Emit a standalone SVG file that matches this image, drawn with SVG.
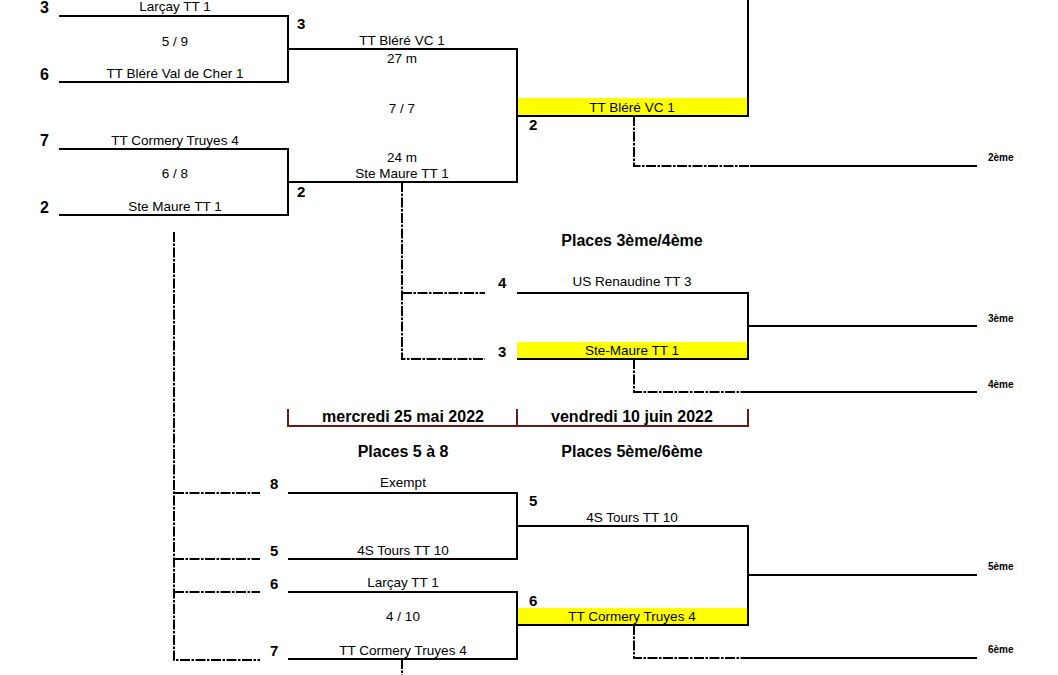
<svg xmlns="http://www.w3.org/2000/svg" width="1058" height="675" viewBox="0 0 1058 675">
<style>
.ln{stroke:#000;stroke-width:2;fill:none}
.dl{stroke:#000;stroke-width:2;fill:none;stroke-dasharray:10 1.5 2.5 1.5}
.dr{stroke:#6b1a1a;stroke-width:2;fill:none}
.t{font-family:"Liberation Sans",Arial,sans-serif;font-size:13.5px;fill:#000;text-anchor:middle}
.n{font-family:"Liberation Sans",Arial,sans-serif;font-size:15px;font-weight:bold;fill:#000}
.s{font-family:"Liberation Sans",Arial,sans-serif;font-size:16px;font-weight:bold;fill:#000}
.h{font-family:"Liberation Sans",Arial,sans-serif;font-size:16px;font-weight:bold;fill:#000;text-anchor:middle}
.p{font-family:"Liberation Sans",Arial,sans-serif;font-size:10px;font-weight:bold;fill:#000}
.y{fill:#ffff00}
</style>
<rect width="1058" height="675" fill="#fff"/>
<g id="highlights">
<rect class="y" x="517" y="98" width="231" height="18"/>
<rect class="y" x="517" y="342" width="231" height="17"/>
<rect class="y" x="517" y="608" width="231" height="17"/>
</g>
<g id="connectors">
<path class="ln" d="M59 16H288V82H59M288 49H517V182H288M59 149H288V215H59"/>
<path class="ln" d="M748 0V116H517"/>
<path class="ln" d="M750 166H977"/>
<path class="dl" d="M634 116V166H750"/>
<path class="dl" d="M402 182V359H485M402 293H485"/>
<path class="ln" d="M517 293H748V359H517M748 326H977M750 392H977"/>
<path class="dl" d="M634 359V392H750"/>
<path class="dl" d="M174 232V660H260M174 493H260M174 559H260M174 592H260"/>
<path class="ln" d="M288 493H517V559H288M517 526H748V625H517M288 592H517V659H288M748 575H977M750 658H977"/>
<path class="dl" d="M634 625V658H750M402 659V675"/>
<path class="dr" d="M288 409V426H748V409M517 409V426"/>
</g>
<g id="qf1">
<text class="s" x="40" y="13">3</text>
<text class="t" x="175" y="11">Larçay TT 1</text>
<text class="t" x="175" y="46">5 / 9</text>
<text class="s" x="40" y="80">6</text>
<text class="t" x="175" y="78">TT Bléré Val de Cher 1</text>
</g>
<g id="qf2">
<text class="s" x="40" y="146">7</text>
<text class="t" x="175" y="145">TT Cormery Truyes 4</text>
<text class="t" x="175" y="178">6 / 8</text>
<text class="s" x="40" y="213">2</text>
<text class="t" x="175" y="211">Ste Maure TT 1</text>
</g>
<g id="sf1">
<text class="n" x="297" y="29">3</text>
<text class="t" x="402" y="45">TT Bléré VC 1</text>
<text class="t" x="402" y="63">27 m</text>
<text class="t" x="402" y="113">7 / 7</text>
<text class="t" x="402" y="162">24 m</text>
<text class="t" x="402" y="178">Ste Maure TT 1</text>
<text class="n" x="297" y="197">2</text>
</g>
<g id="final">
<text class="t" x="632" y="112">TT Bléré VC 1</text>
<text class="n" x="529" y="130">2</text>
<text class="p" x="988" y="161">2ème</text>
</g>
<g id="p34">
<text class="h" x="632" y="246">Places 3ème/4ème</text>
<text class="n" x="498" y="288">4</text>
<text class="t" x="632" y="286">US Renaudine TT 3</text>
<text class="n" x="498" y="357">3</text>
<text class="t" x="632" y="355">Ste-Maure TT 1</text>
<text class="p" x="988" y="322">3ème</text>
<text class="p" x="988" y="388">4ème</text>
</g>
<g id="dates">
<text class="h" x="403" y="422">mercredi 25 mai 2022</text>
<text class="h" x="632" y="422">vendredi 10 juin 2022</text>
<text class="h" x="403" y="457">Places 5 à 8</text>
<text class="h" x="632" y="457">Places 5ème/6ème</text>
</g>
<g id="p58a">
<text class="n" x="270" y="489">8</text>
<text class="t" x="403" y="487">Exempt</text>
<text class="n" x="270" y="556">5</text>
<text class="t" x="403" y="555">4S Tours TT 10</text>
</g>
<g id="p58b">
<text class="n" x="270" y="589">6</text>
<text class="t" x="403" y="587">Larçay TT 1</text>
<text class="t" x="403" y="621">4 / 10</text>
<text class="n" x="270" y="656">7</text>
<text class="t" x="403" y="655">TT Cormery Truyes 4</text>
</g>
<g id="p56">
<text class="n" x="529" y="506">5</text>
<text class="t" x="632" y="522">4S Tours TT 10</text>
<text class="n" x="529" y="606">6</text>
<text class="t" x="632" y="621">TT Cormery Truyes 4</text>
<text class="p" x="988" y="570">5ème</text>
<text class="p" x="988" y="653">6ème</text>
</g>
</svg>
